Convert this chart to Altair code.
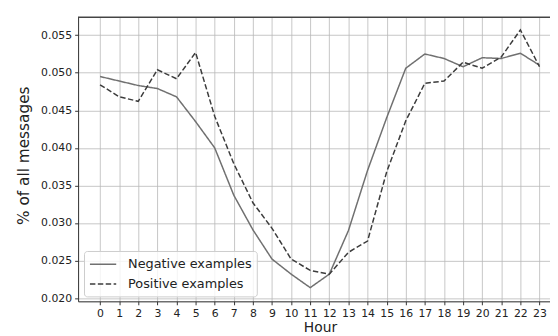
import altair as alt
import pandas as pd

hours = list(range(24))
negative = [0.0495, 0.0489, 0.0483, 0.0479, 0.0468, 0.0435, 0.0400, 0.0337, 0.0291, 0.0252,
            0.0232, 0.0214, 0.0232, 0.0290, 0.0370, 0.0440, 0.0506, 0.0525, 0.0519, 0.0508,
            0.0520, 0.0519, 0.0526, 0.0510]
positive = [0.0484, 0.0468, 0.0462, 0.0504, 0.0492, 0.0527, 0.0442, 0.0379, 0.0327, 0.0293,
            0.0252, 0.0237, 0.0232, 0.0261, 0.0276, 0.0368, 0.0436, 0.0486, 0.0489, 0.0514,
            0.0506, 0.0521, 0.0557, 0.0508]
series_names = ["Negative examples", "Positive examples"]
y_ticks = [0.020, 0.025, 0.030, 0.035, 0.040, 0.045, 0.050, 0.055]

rows = []
for h, n, p in zip(hours, negative, positive):
    rows.append({"Hour": h, "value": n, "series": series_names[0]})
    rows.append({"Hour": h, "value": p, "series": series_names[1]})
df = pd.DataFrame(rows)

W, H = 478, 288
FONT = "DejaVu Sans"

legend_opts = dict(title=None, orient="none", legendX=6, legendY=237,
                   symbolType="M-1,0L2.547,0", symbolSize=225,
                   symbolStrokeWidth=1.5, labelFontSize=13,
                   labelOffset=22.6, rowPadding=4, padding=5,
                   fillColor="rgba(255,255,255,0.8)",
                   strokeColor="#cccccc", cornerRadius=3)

lines = alt.Chart(df).mark_line(strokeWidth=1.5).encode(
    x=alt.X("Hour:Q",
            scale=alt.Scale(domain=[-1.15, 23.55], nice=False, zero=False),
            axis=alt.Axis(values=hours, format="d", title="Hour", titleX=245,
                          grid=True, gridColor="#b8b8b8", gridWidth=0.8,
                          domainColor="#333333", tickColor="#333333", tickSize=3.5,
                          labelFontSize=11, titleFontSize=14, labelPadding=3,
                          titlePadding=2, labelFlush=False)),
    y=alt.Y("value:Q",
            scale=alt.Scale(domain=[0.01958, 0.05742], nice=False, zero=False),
            axis=alt.Axis(values=y_ticks, format=".3f", title="% of all messages",
                          titleY=140,
                          grid=True, gridColor="#b8b8b8", gridWidth=0.8,
                          domainColor="#333333", tickColor="#333333", tickSize=3.5,
                          labelFontSize=11, titleFontSize=15.5, labelPadding=3,
                          titlePadding=9, labelFlush=False)),
    color=alt.Color("series:N",
                    scale=alt.Scale(domain=series_names, range=["#707070", "#3c3c3c"]),
                    legend=alt.Legend(**legend_opts)),
    strokeDash=alt.StrokeDash("series:N",
                              scale=alt.Scale(domain=series_names, range=[[1, 0], [5.5, 2.5]]),
                              legend=alt.Legend(**legend_opts)),
)

top_spine = alt.Chart(df).mark_rule(color="#444444", strokeWidth=1).encode(
    x=alt.value(0), x2=alt.value(W), y=alt.value(0.5)
)

chart = alt.layer(lines, top_spine).properties(
    width=W, height=H,
    autosize=alt.AutoSizeParams(type="none"),
    padding={"left": 71, "top": 7, "right": 0, "bottom": 33},
).configure_view(stroke=None).configure(
    font=FONT
).configure_axis(labelColor="#222222", titleColor="#222222", titleFontWeight="normal"
).configure_legend(labelColor="#222222")

chart.save("out.html", embed_options={"renderer": "svg", "actions": False})
